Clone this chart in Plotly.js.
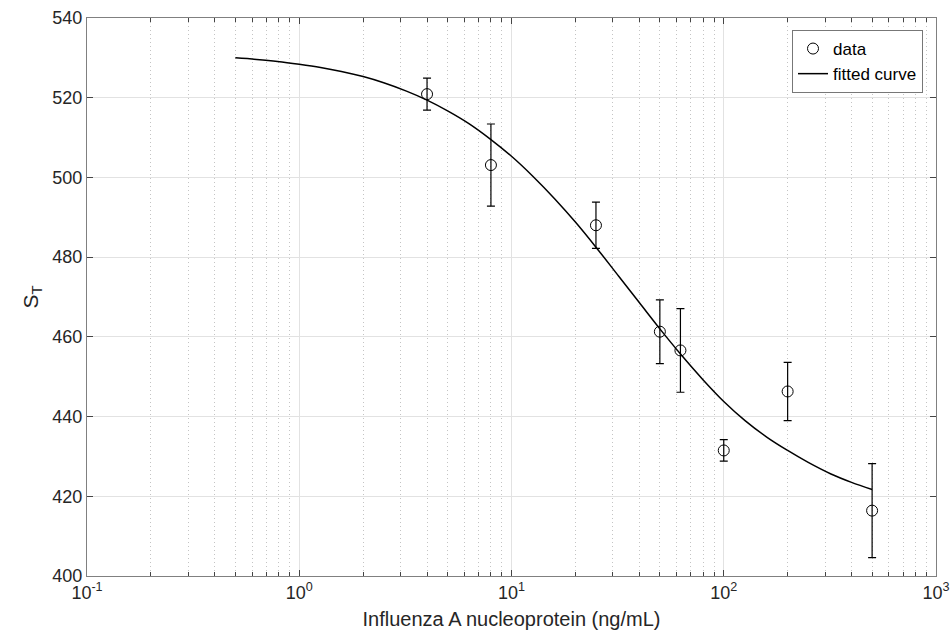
<!DOCTYPE html>
<html>
<head>
<meta charset="utf-8">
<script src="https://cdn.plot.ly/plotly-3.0.1.min.js"></script>
<style>html,body{margin:0;padding:0;background:#fff;}#chart{width:952px;height:641px;}</style>
</head>
<body>
<div id="chart"></div>
<script>
// measured data (concentration, signal, error)
const conc = [4, 8, 25, 50, 62.5, 100, 200, 500];
const signal = [520.9, 503.1, 488.0, 461.3, 456.6, 431.5, 446.3, 416.4];
const errs = [4.0, 10.3, 5.8, 8.0, 10.5, 2.7, 7.3, 11.8];

// fitted curve
const fitX = [0.5, 0.63, 0.79, 1, 1.26, 1.58, 2, 2.5, 3.2, 4, 5, 6.3, 8, 10, 12.6, 16, 20, 25, 32, 40, 50, 63, 80, 100, 126, 160, 200, 250, 320, 400, 500];
const fitY = [530.0, 529.6, 529.1, 528.4, 527.6, 526.6, 525.3, 523.75, 521.65, 519.4, 516.7, 513.5, 509.5, 505.3, 500.3, 494.6, 488.8, 482.5, 475.2, 468.6, 462.0, 455.5, 449.2, 443.8, 439.0, 434.8, 431.5, 428.5, 425.6, 423.5, 421.7];

const xTickVals = [0.1, 1, 10, 100, 1000];
const xTickText = ['10<sup>-1</sup>', '10<sup>0</sup>', '10<sup>1</sup>', '10<sup>2</sup>', '10<sup>3</sup>'];
const yTickVals = [400, 420, 440, 460, 480, 500, 520, 540];

const minorVals = [];
for (let d = 0.1; d < 1000; d *= 10) {
  for (let k = 2; k <= 9; k++) minorVals.push(+(d * k).toPrecision(3));
}

const font = 'Liberation Sans, Arial, Helvetica, sans-serif';

const traces = [
  {
    x: conc, y: signal, type: 'scatter', mode: 'markers', name: 'data',
    marker: {symbol: 'circle-open', size: 11, color: '#000', line: {width: 1, color: '#000'}},
    error_y: {type: 'data', array: errs, visible: true, color: '#000', thickness: 1.2, width: 4}
  },
  {
    x: fitX, y: fitY, type: 'scatter', mode: 'lines', name: 'fitted curve',
    line: {color: '#000', width: 1.5, shape: 'spline', smoothing: 1}
  }
];

const layout = {
  width: 952, height: 641,
  margin: {l: 87, r: 16, t: 18, b: 65},
  paper_bgcolor: '#fff', plot_bgcolor: '#fff',
  font: {family: font, size: 18, color: '#262626'},
  showlegend: true,
  legend: {
    x: 0.9847, y: 0.9785, xanchor: 'right', yanchor: 'top',
    bgcolor: '#fff', bordercolor: '#777', borderwidth: 1,
    font: {family: font, size: 17, color: '#000'},
    tracegroupgap: 0
  },
  xaxis: {
    type: 'log', range: [-1, 3],
    tickvals: xTickVals, ticktext: xTickText,
    ticks: 'inside', ticklen: 6, tickcolor: '#444',
    showline: true, linecolor: '#808080', linewidth: 1, mirror: 'ticks',
    showgrid: true, gridcolor: '#e2e2e2', gridwidth: 1,
    zeroline: false,
    tickfont: {family: font, size: 18, color: '#262626'},
    minor: {tickvals: minorVals, ticks: 'inside', ticklen: 4, tickcolor: '#444',
            showgrid: true, gridcolor: '#c4c4c4', griddash: '1px,3px', gridwidth: 1},
    title: {text: 'Influenza A nucleoprotein (ng/mL)', font: {family: font, size: 20, color: '#262626'}, standoff: 10}
  },
  yaxis: {
    range: [400, 540],
    tickvals: yTickVals,
    ticks: 'inside', ticklen: 6, tickcolor: '#444',
    showline: true, linecolor: '#808080', linewidth: 1, mirror: 'ticks',
    showgrid: true, gridcolor: '#e2e2e2', gridwidth: 1,
    zeroline: false,
    tickfont: {family: font, size: 18, color: '#262626'},
    title: {text: 'S<sub>T</sub>', font: {family: font, size: 21, color: '#262626'}, standoff: 8}
  }
};

Plotly.newPlot('chart', traces, layout, {displayModeBar: false, staticPlot: true});
</script>
</body>
</html>
